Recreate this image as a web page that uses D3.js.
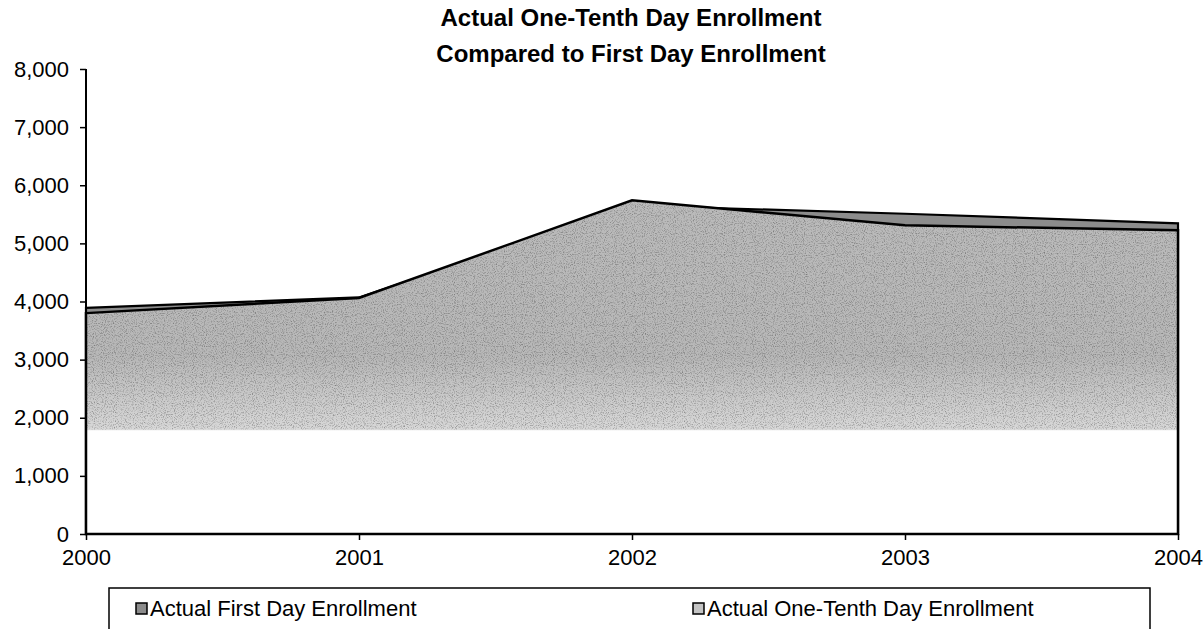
<!DOCTYPE html>
<html>
<head>
<meta charset="utf-8">
<script src="https://cdn.jsdelivr.net/npm/d3@7"></script>
<style>
  html, body { margin: 0; padding: 0; background: #fff; }
  svg { display: block; font-family: Arial, "Liberation Sans", sans-serif; }
</style>
</head>
<body>
<svg id="chart" width="1204" height="629"></svg>
<script>
const years = [2000, 2001, 2002, 2003, 2004];
const firstDay = [3890, 4070, 5650, 5510, 5345];
const tenthDay = [3800, 4060, 5740, 5310, 5225];
const yTicks = [0, 1000, 2000, 3000, 4000, 5000, 6000, 7000, 8000];
const seriesNames = ["Actual First Day Enrollment", "Actual One-Tenth Day Enrollment"];
const titleLines = ["Actual One-Tenth Day Enrollment", "Compared to First Day Enrollment"];

const svg = d3.select("#chart");
const x = d3.scaleLinear().domain([2000, 2004]).range([86, 1178]);
const y = d3.scaleLinear().domain([0, 8000]).range([534, 69]);

const defs = svg.append("defs");
const g0 = y(8000), g1 = y(0);
const cut = (y(1800) - g0) / (g1 - g0);
const grad = defs.append("linearGradient").attr("id", "tenthFill")
  .attr("gradientUnits", "userSpaceOnUse")
  .attr("x1", 0).attr("x2", 0).attr("y1", g0).attr("y2", g1);
grad.append("stop").attr("offset", 0).attr("stop-color", "#bdbdbd");
grad.append("stop").attr("offset", cut * 0.8).attr("stop-color", "#b8b8b8");
grad.append("stop").attr("offset", cut).attr("stop-color", "#d8d8d8");
grad.append("stop").attr("offset", cut + 0.003).attr("stop-color", "#ffffff");
grad.append("stop").attr("offset", 1).attr("stop-color", "#ffffff");

const noise = defs.append("filter").attr("id", "grain").attr("x", 0).attr("y", 0).attr("width", 1).attr("height", 1);
noise.append("feTurbulence").attr("type", "fractalNoise").attr("baseFrequency", 0.9).attr("numOctaves", 2).attr("seed", 3).attr("result", "n");
noise.append("feColorMatrix").attr("in", "n").attr("type", "matrix")
  .attr("values", "0 0 0 0 0  0 0 0 0 0  0 0 0 0 0  0 0 0 -1.6 0.85").attr("result", "a");
noise.append("feComposite").attr("in", "a").attr("in2", "SourceGraphic").attr("operator", "in");

const dataFirst = years.map((yr, i) => ({ yr, v: firstDay[i] }));
const dataTenth = years.map((yr, i) => ({ yr, v: tenthDay[i] }));
const area = d3.area().x(d => x(d.yr)).y0(y(0)).y1(d => y(d.v));
const areaUpper = d3.area().x(d => x(d.yr)).y0(y(1800)).y1(d => y(d.v));

// First day area (behind)
svg.append("path").datum(dataFirst).attr("d", area)
  .attr("fill", "#8c8c8c").attr("stroke", "#000").attr("stroke-width", 2.2);
// One-tenth day area (front)
svg.append("path").datum(dataTenth).attr("d", area)
  .attr("fill", "url(#tenthFill)").attr("stroke", "none");
svg.append("path").datum(dataTenth).attr("d", areaUpper)
  .attr("fill", "#b8b8b8").attr("filter", "url(#grain)").attr("opacity", 0.5);
svg.append("path").datum(dataTenth).attr("d", area)
  .attr("fill", "none").attr("stroke", "#000").attr("stroke-width", 2.5);

// Axes
const yAxis = d3.axisLeft(y).tickValues(yTicks).tickSize(6).tickPadding(11)
  .tickFormat(d3.format(","));
const gy = svg.append("g").attr("transform", `translate(${x(2000)},0)`).call(yAxis);
gy.select(".domain").attr("stroke", "#000").attr("stroke-width", 2).attr("d", `M0,${y(8000)}V${y(0)}`);
gy.selectAll(".tick line").attr("stroke", "#000").attr("stroke-width", 1.5);
gy.selectAll(".tick text").attr("font-size", 22).attr("fill", "#000")
  .attr("font-family", "Arial, 'Liberation Sans', sans-serif");

const xAxis = d3.axisBottom(x).tickValues(years).tickSize(6).tickPadding(9).tickFormat(d3.format("d"));
const gx = svg.append("g").attr("transform", `translate(0,${y(0)})`).call(xAxis);
gx.select(".domain").attr("stroke", "#000").attr("stroke-width", 2).attr("d", `M${x(2000)},0H${x(2004)}`);
gx.selectAll(".tick line").attr("stroke", "#000").attr("stroke-width", 1.5);
gx.selectAll(".tick text").attr("font-size", 22).attr("fill", "#000")
  .attr("font-family", "Arial, 'Liberation Sans', sans-serif");

// Title
svg.append("g").selectAll("text").data(titleLines).join("text")
  .attr("x", 631).attr("y", (d, i) => 26 + i * 36)
  .attr("text-anchor", "middle").attr("font-weight", "bold").attr("font-size", 24)
  .attr("fill", "#000").text(d => d);

// Legend
const lg = svg.append("g");
lg.append("rect").attr("x", 109).attr("y", 588).attr("width", 1041).attr("height", 60)
  .attr("fill", "#fff").attr("stroke", "#000").attr("stroke-width", 1.5);
const legX = [136, 693];
const legFill = ["#8c8c8c", "#c4c4c4"];
seriesNames.forEach((name, i) => {
  lg.append("rect").attr("x", legX[i]).attr("y", 603).attr("width", 11).attr("height", 11)
    .attr("fill", legFill[i]).attr("stroke", "#000").attr("stroke-width", 1.5);
  lg.append("text").attr("x", legX[i] + 14).attr("y", 616).attr("font-size", 22)
    .attr("fill", "#000").text(name);
});
</script>
</body>
</html>
